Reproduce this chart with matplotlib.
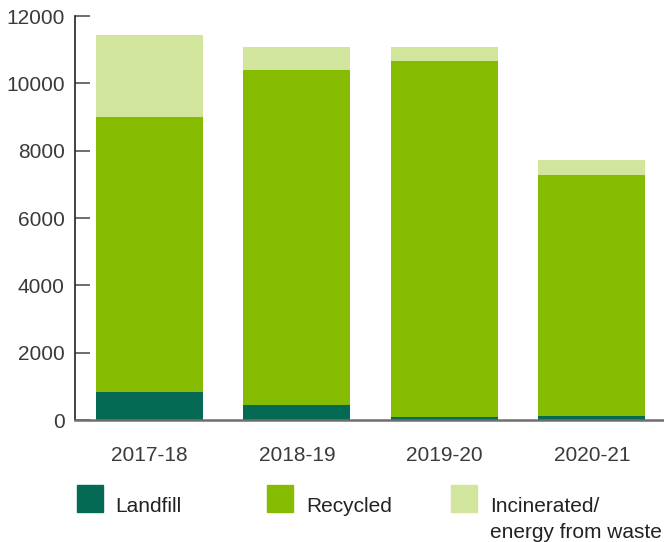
import matplotlib.pyplot as plt
from matplotlib.patches import Rectangle

# data (tonnes)
years = ["2017-18", "2018-19", "2019-20", "2020-21"]
landfill = [820, 460, 80, 110]
recycled = [8180, 9940, 10580, 7170]
incinerated = [2450, 680, 420, 445]

series_names = ["Landfill", "Recycled", "Incinerated/\nenergy from waste"]
colours = ["#046a54", "#85bb00", "#d2e59c"]
yticks = [0, 2000, 4000, 6000, 8000, 10000, 12000]

plt.rcParams['font.family'] = ['Liberation Sans', 'DejaVu Sans']

fig = plt.figure(figsize=(6.64, 5.42), dpi=100)
ax = fig.add_axes([75 / 664, 1 - 420 / 542, 1 - 75 / 664, 404 / 542])

x = list(range(len(years)))
width = 0.725

# stacked bars
bottom2 = [a + b for a, b in zip(landfill, recycled)]
ax.bar(x, landfill, width, color=colours[0])
ax.bar(x, recycled, width, bottom=landfill, color=colours[1])
ax.bar(x, incinerated, width, bottom=bottom2, color=colours[2])

ax.set_xlim(-0.505, 3.49)
ax.set_ylim(0, 12000)
ax.set_yticks(yticks)
ax.set_xticks(x)
ax.set_xticklabels(years)

# axis styling
for side in ["top", "right"]:
    ax.spines[side].set_visible(False)
ax.spines["left"].set_color("#222222")
ax.spines["left"].set_linewidth(1.2)
ax.spines["bottom"].set_color("#6e6e6e")
ax.spines["bottom"].set_linewidth(1.8)
ax.tick_params(axis="y", direction="in", length=11, width=1.2, color="#555555",
               pad=7.5, labelsize=15, labelcolor="#3a3a3a")
ax.tick_params(axis="x", length=0, pad=19, labelsize=15, labelcolor="#3a3a3a")

# legend drawn by hand below the axis
sq_x = [77, 267, 451]
txt_x = [115, 306, 490]
for name, col, sx, tx in zip(series_names, colours, sq_x, txt_x):
    fig.patches.append(Rectangle((sx / 664, 1 - 512 / 542), 26 / 664, 27 / 542,
                                 transform=fig.transFigure, color=col))
    for i, line in enumerate(name.split("\n")):
        fig.text(tx / 664, 1 - (512 + 26 * i) / 542, line, ha="left",
                 va="baseline", fontsize=15, color="#222222")

fig.savefig("out.png", dpi=100)
